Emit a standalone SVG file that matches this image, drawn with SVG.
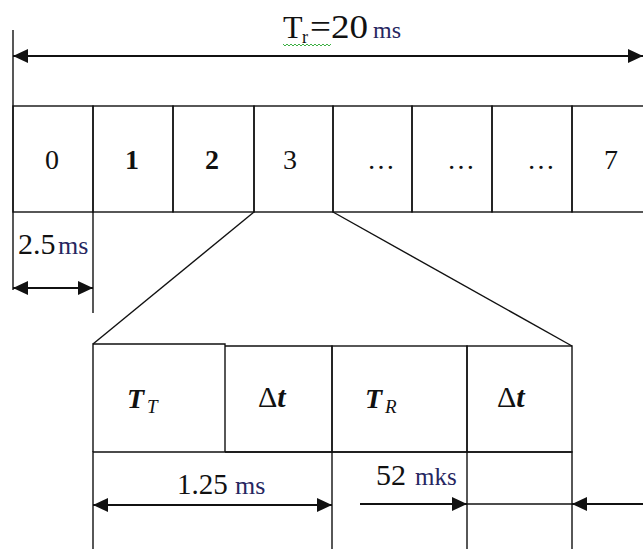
<svg xmlns="http://www.w3.org/2000/svg" width="643" height="549" viewBox="0 0 643 549">
<defs>
<style>
.cell{fill:none;stroke:#111;stroke-width:1.4}
.ln{fill:none;stroke:#111;stroke-width:1.4}
.arr{fill:none;stroke:#111;stroke-width:2}
.t{font-family:'Liberation Serif','Times New Roman',serif;fill:#111}
.u{font-family:'Liberation Serif','Times New Roman',serif;fill:#262660}
.bi{font-weight:bold;font-style:italic}
.it{font-style:italic}
</style>
<marker id="ah" viewBox="0 0 15 14" refX="15" refY="7" markerWidth="15" markerHeight="14" markerUnits="userSpaceOnUse" orient="auto-start-reverse">
<path d="M0,0 L15,7 L0,14 Z" fill="#111"/>
</marker>
</defs>
<rect width="643" height="549" fill="#fff"/>

<g id="title" font-family="'Liberation Serif', serif">
<text class="t" x="283" y="38" font-size="32">T</text>
<text class="t" x="302" y="43" font-size="18">r</text>
<text class="t" x="310" y="38" font-size="34" textLength="58" lengthAdjust="spacingAndGlyphs">=20</text>
<text class="u" x="373" y="38" font-size="24">ms</text>
<polyline points="283,44 285,46 287,44 289,46 291,44 293,46 295,44 297,46 299,44 301,46 303,44 305,46 307,44 309,46 311,44 313,46 315,44 317,46 319,44 321,46 323,44 325,46 327,44 329,46 331,44" fill="none" stroke="#3cb043" stroke-width="1"/>
</g>

<g font-family="'Liberation Serif', serif">
<g id="slot-0"><rect class="cell" x="13" y="106" width="80" height="106"/><text class="t" x="52" y="169" font-size="28" text-anchor="middle">0</text></g>
<g id="slot-1"><rect class="cell" x="93" y="106" width="80" height="106"/><text class="t" x="132" y="169" font-size="28" font-weight="bold" text-anchor="middle">1</text></g>
<g id="slot-2"><rect class="cell" x="173" y="106" width="81" height="106"/><text class="t" x="212" y="169" font-size="28" font-weight="bold" text-anchor="middle">2</text></g>
<g id="slot-3"><rect class="cell" x="254" y="106" width="79" height="106"/><text class="t" x="290" y="169" font-size="28" text-anchor="middle">3</text></g>
<g id="slot-4"><rect class="cell" x="333" y="106" width="79" height="106"/><text class="t" x="367" y="169" font-size="28">…</text></g>
<g id="slot-5"><rect class="cell" x="412" y="106" width="80" height="106"/><text class="t" x="447" y="169" font-size="28">…</text></g>
<g id="slot-6"><rect class="cell" x="492" y="106" width="80" height="106"/><text class="t" x="527" y="169" font-size="28">…</text></g>
<g id="slot-7"><rect class="cell" x="572" y="106" width="80" height="106"/><text class="t" x="611" y="169" font-size="28" text-anchor="middle">7</text></g>

<g id="slot-label">
<text class="t" x="18" y="254" font-size="30">2.5</text>
<text class="u" x="58" y="254" font-size="26">ms</text>
</g>

<g id="sub-TT"><path class="cell" d="M93,452 V344 H225 V452"/><text class="t bi" x="127" y="408" font-size="28">T</text><text class="t it" x="147" y="413" font-size="19">T</text></g>
<g id="sub-dt1"><path class="cell" d="M225,346 H332 V452 H225"/><text class="t" x="258" y="407" font-size="30">Δ<tspan class="bi">t</tspan></text></g>
<g id="sub-TR"><rect class="cell" x="332" y="346" width="135" height="106"/><text class="t bi" x="365" y="408" font-size="28">T</text><text class="t it" x="385" y="413" font-size="19">R</text></g>
<g id="sub-dt2"><rect class="cell" x="467" y="346" width="105" height="106"/><text class="t" x="497" y="407" font-size="30">Δ<tspan class="bi">t</tspan></text></g>
<g id="sub-bottom">
<path class="cell" d="M93,560 V452 H572 V560 M332,452 V560 M467,452 V560"/>
<text class="t" x="177" y="494" font-size="29">1.25</text>
<text class="u" x="235" y="494" font-size="26">ms</text>
<text class="t" x="376" y="485" font-size="30">52</text>
<text class="u" x="415" y="485" font-size="25">mks</text>
</g>
</g>

<g id="connectors">
<line class="ln" x1="13" y1="30" x2="13" y2="290"/>
<line class="ln" x1="93" y1="212" x2="93" y2="313"/>
<line class="arr" x1="13" y1="56" x2="643" y2="56" marker-start="url(#ah)" marker-end="url(#ah)"/>
<line class="arr" x1="13" y1="288" x2="93" y2="288" marker-start="url(#ah)" marker-end="url(#ah)"/>
<line class="ln" x1="254" y1="212" x2="93" y2="344"/>
<line class="ln" x1="333" y1="212" x2="572" y2="346"/>
<line class="arr" x1="93" y1="505" x2="332" y2="505" marker-start="url(#ah)" marker-end="url(#ah)"/>
<line class="arr" x1="360" y1="504" x2="467" y2="504" marker-end="url(#ah)"/>
<line class="ln" x1="467" y1="504" x2="572" y2="504"/>
<line class="arr" x1="643" y1="504" x2="572" y2="504" marker-end="url(#ah)"/>
</g>
</svg>
